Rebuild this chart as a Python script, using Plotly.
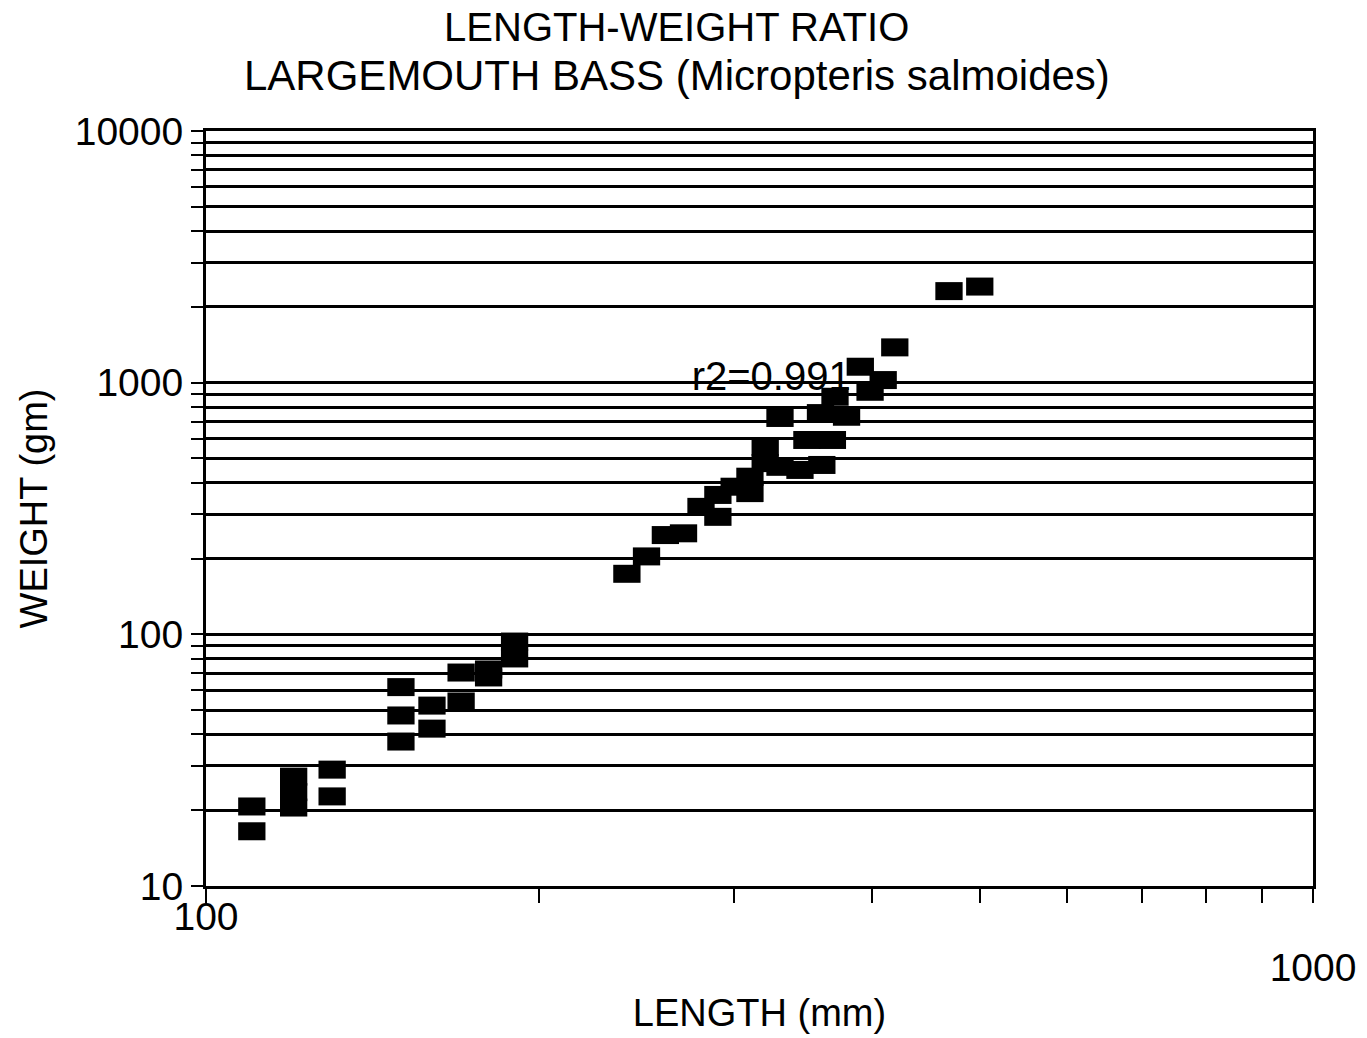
import plotly.graph_objects as go

# ---- data ----
length_mm = [110, 110, 120, 120, 120, 130, 130, 150, 150, 150, 160, 160,
             170, 170, 180, 180, 190, 190,
             240, 250, 260, 270, 280, 290, 290, 300, 310, 310, 320, 320,
             330, 330, 344, 349, 360, 359, 368, 370, 379, 390, 398, 409,
             419, 469, 500]
weight_gm = [20.7, 16.5, 27.2, 23.6, 20.5, 29.0, 22.7, 61.7, 47.6, 37.5, 52.1, 42.2,
             70.5, 54.1, 72.5, 67.4, 93.6, 80.2,
             174, 204, 248, 252, 321, 293, 358, 386, 423, 364, 479, 556,
             724, 463, 450, 592, 471, 757, 592, 879, 732, 1157, 920, 1024,
             1381, 2311, 2409]

r2_label = "r2=0.991"
r2_pos = (324, 1024)

x_tickvals = [100, 200, 300, 400, 500, 600, 700, 800, 900, 1000]
x_ticktext = ["100", "", "", "", "", "", "", "", "", "<br>1000"]

y_tickvals = [m * 10 ** e for e in range(1, 4) for m in range(1, 10)] + [10000]
y_ticktext = [str(v) if str(v).strip("0") == "1" else "" for v in y_tickvals]

title_line1 = "LENGTH-WEIGHT RATIO"
title_line2 = "LARGEMOUTH BASS (Micropteris salmoides)"
x_title = "LENGTH (mm)"
y_title = "WEIGHT (gm)"

FONT = "Liberation Sans, Arial, Helvetica, sans-serif"

fig = go.Figure()

# r2 label drawn beneath the markers
fig.add_trace(go.Scatter(
    x=[r2_pos[0]], y=[r2_pos[1]], mode="text", text=[r2_label],
    textposition="middle center",
    textfont=dict(family=FONT, size=40, color="black"),
    hoverinfo="skip", showlegend=False,
))

fig.add_trace(go.Scatter(
    x=length_mm, y=weight_gm, mode="markers",
    marker=dict(symbol="line-ew", size=19.5, color="black",
                line=dict(color="black", width=18)),
    showlegend=False,
))

fig.update_layout(
    width=1367, height=1038, autosize=False,
    margin=dict(l=206, r=54, t=131, b=152, autoexpand=False),
    paper_bgcolor="white", plot_bgcolor="white",
    font=dict(family=FONT, color="black"),
    title=dict(text=title_line1, x=0.495, xref="container", xanchor="center",
               y=1 - 27 / 1038, yref="container", yanchor="middle",
               font=dict(family=FONT, size=40, color="black")),
    annotations=[dict(text=title_line2, xref="paper", yref="paper",
                      x=(677 - 206) / 1107, y=(886 - 75) / 755,
                      xanchor="center", yanchor="middle", showarrow=False,
                      font=dict(family=FONT, size=42, color="black"))],
)

fig.update_xaxes(
    type="log", range=[2, 3], automargin=False,
    tickmode="array", tickvals=x_tickvals, ticktext=x_ticktext,
    ticks="outside", ticklen=14, tickwidth=2, tickcolor="black",
    ticklabelstandoff=-20,
    tickfont=dict(family=FONT, size=39, color="black"),
    showgrid=False, zeroline=False,
    showline=True, linewidth=3, linecolor="black", mirror=True,
    title=dict(text=x_title, font=dict(family=FONT, size=38, color="black"),
               standoff=12),
)

fig.update_yaxes(
    type="log", range=[1, 4], automargin=False,
    tickmode="array", tickvals=y_tickvals, ticktext=y_ticktext,
    ticks="outside", ticklen=12, tickwidth=2, tickcolor="black",
    tickfont=dict(family=FONT, size=39, color="black"),
    showgrid=True, gridcolor="black", gridwidth=2.5, zeroline=False,
    showline=True, linewidth=3, linecolor="black", mirror=True,
    title=dict(text=y_title, font=dict(family=FONT, size=38, color="black"),
               standoff=16),
)

fig.write_html("out.html")
